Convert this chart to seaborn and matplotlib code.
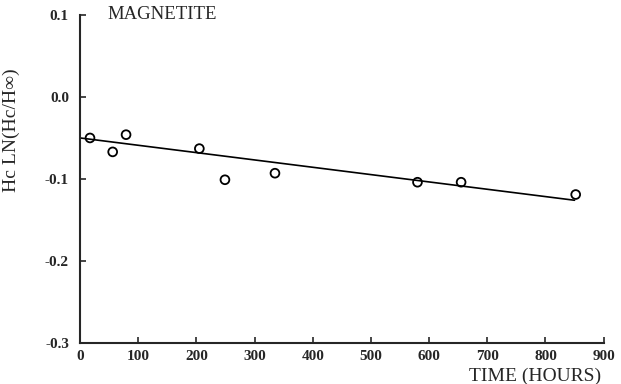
import numpy as np
import pandas as pd
import seaborn as sns
import matplotlib
matplotlib.use("Agg")
import matplotlib.pyplot as plt

# Data
time_hours = [17, 56, 79, 205, 249, 335, 580, 655, 852]
hc_ln = [-0.050, -0.067, -0.046, -0.063, -0.101, -0.093, -0.104, -0.104, -0.119]

# Fitted trend line end points (as drawn)
fit_time = [0, 850]
fit_hc = [-0.050, -0.126]

x_ticks = [0, 100, 200, 300, 400, 500, 600, 700, 800, 900]
y_ticks = [-0.3, -0.2, -0.1, 0.0, 0.1]
y_tick_labels = ["-0.3", "-0.2", "-0.1", "0.0", "0.1"]

df = pd.DataFrame({"time": time_hours, "hc": hc_ln})
fit = pd.DataFrame({"time": fit_time, "hc": fit_hc})

sns.set_style("ticks")
plt.rcParams['font.family'] = ['Liberation Serif', 'DejaVu Serif']

fig = plt.figure(figsize=(6.21, 3.84), dpi=100)
ax = fig.add_axes([0.129, 0.107, 0.843, 0.854])

sns.lineplot(data=fit, x="time", y="hc", color="black", linewidth=1.2, ax=ax)
sns.scatterplot(data=df, x="time", y="hc", marker="o", s=40,
                facecolors="none", edgecolor="black", linewidth=1.3, ax=ax, zorder=3)

ax.set_xlim(0, 900)
ax.set_ylim(-0.3, 0.1)
ax.set_xticks(x_ticks)
ax.set_yticks(y_ticks)
ax.set_yticklabels(y_tick_labels)
ax.tick_params(direction="in", length=4, width=1.2, labelsize=11)
ax.tick_params(axis="y", pad=8)
ax.tick_params(axis="x", pad=5)
for lab in ax.get_xticklabels() + ax.get_yticklabels():
    lab.set_fontweight("bold")

sns.despine(ax=ax)
for s in ["left", "bottom"]:
    ax.spines[s].set_linewidth(1.5)

ax.set_xlabel("TIME (HOURS)", fontsize=14)
ax.xaxis.set_label_coords(0.87, -0.075)
ax.set_ylabel("Hc LN(Hc/H\u221e)", fontsize=14)
ax.yaxis.set_label_coords(-0.115, 0.65)

ax.text(0.053, 1.0, "MAGNETITE", transform=ax.transAxes, fontsize=13.5,
        ha="left", va="center")

fig.savefig("out.png", dpi=100)
